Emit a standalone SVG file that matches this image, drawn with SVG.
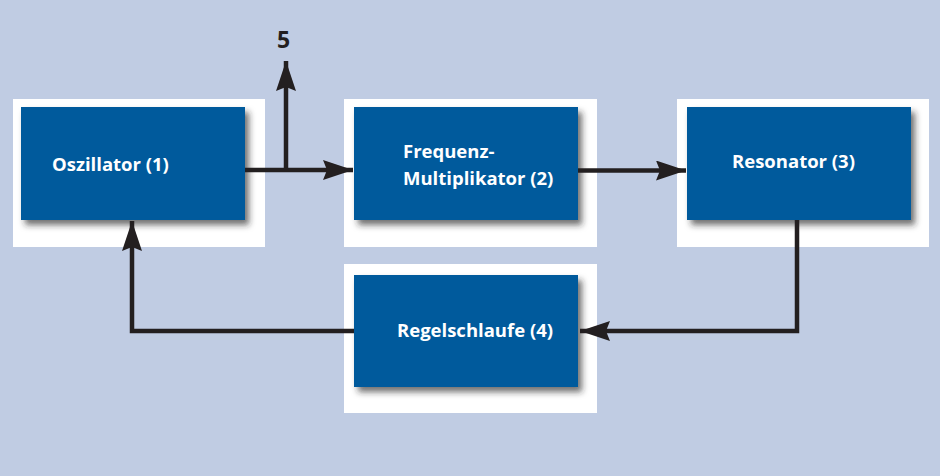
<svg xmlns="http://www.w3.org/2000/svg" width="940" height="476" viewBox="0 0 940 476">
<style>
.panel{fill:#ffffff}
.box{fill:#005a9c;filter:url(#sh)}
.lbl{font-family:"Open Sans","Noto Sans",sans-serif;font-weight:bold;font-size:18.5px;fill:#ffffff}
.wire{fill:none;stroke:#231f20;stroke-width:4.5;stroke-linejoin:miter}
</style>
<defs>
<filter id="sh" x="-10%" y="-10%" width="130%" height="140%">
<feDropShadow dx="4" dy="5" stdDeviation="3" flood-color="#222" flood-opacity="0.65"/>
</filter>
<marker id="ah" markerUnits="userSpaceOnUse" markerWidth="32" markerHeight="22" refX="30" refY="10" orient="auto" viewBox="0 0 32 22">
<path d="M0,0 L30,10 L0,20 L4,10 z" fill="#231f20"/>
</marker>
</defs>
<rect x="0" y="0" width="940" height="476" fill="#c0cce3"/>
<g id="n1">
<rect class="panel" x="13" y="99" width="252" height="148"/>
<rect class="box" x="21" y="107" width="224" height="113"/>
<text class="lbl" x="52" y="171">Oszillator (1)</text>
</g>
<g id="n2">
<rect class="panel" x="344" y="99" width="253" height="148"/>
<rect class="box" x="354" y="107" width="224" height="113"/>
<text class="lbl" x="403" y="158">Frequenz-</text>
<text class="lbl" x="403" y="185">Multiplikator (2)</text>
</g>
<g id="n3">
<rect class="panel" x="677" y="99" width="252" height="148"/>
<rect class="box" x="687" y="107" width="224" height="113"/>
<text class="lbl" x="732" y="168">Resonator (3)</text>
</g>
<g id="n4">
<rect class="panel" x="344" y="264" width="253" height="149"/>
<rect class="box" x="354" y="275" width="224" height="112"/>
<text class="lbl" x="397" y="337">Regelschlaufe (4)</text>
</g>
<g id="out5">
<text x="277" y="48" font-family="'Open Sans','Noto Sans',sans-serif" font-weight="bold" font-size="23" fill="#231f20">5</text>
</g>
<g id="connectors">
<path class="wire" d="M245,170 L353,170" marker-end="url(#ah)"/>
<path class="wire" d="M286,170 L286,61" marker-end="url(#ah)"/>
<path class="wire" d="M578,170.5 L686,170.5" stroke-width="6" marker-end="url(#ah)"/>
<path class="wire" d="M797,220 L797,331 L580,331" marker-end="url(#ah)"/>
<path class="wire" d="M354,331 L132,331 L132,221" marker-end="url(#ah)"/>
</g>
</svg>
